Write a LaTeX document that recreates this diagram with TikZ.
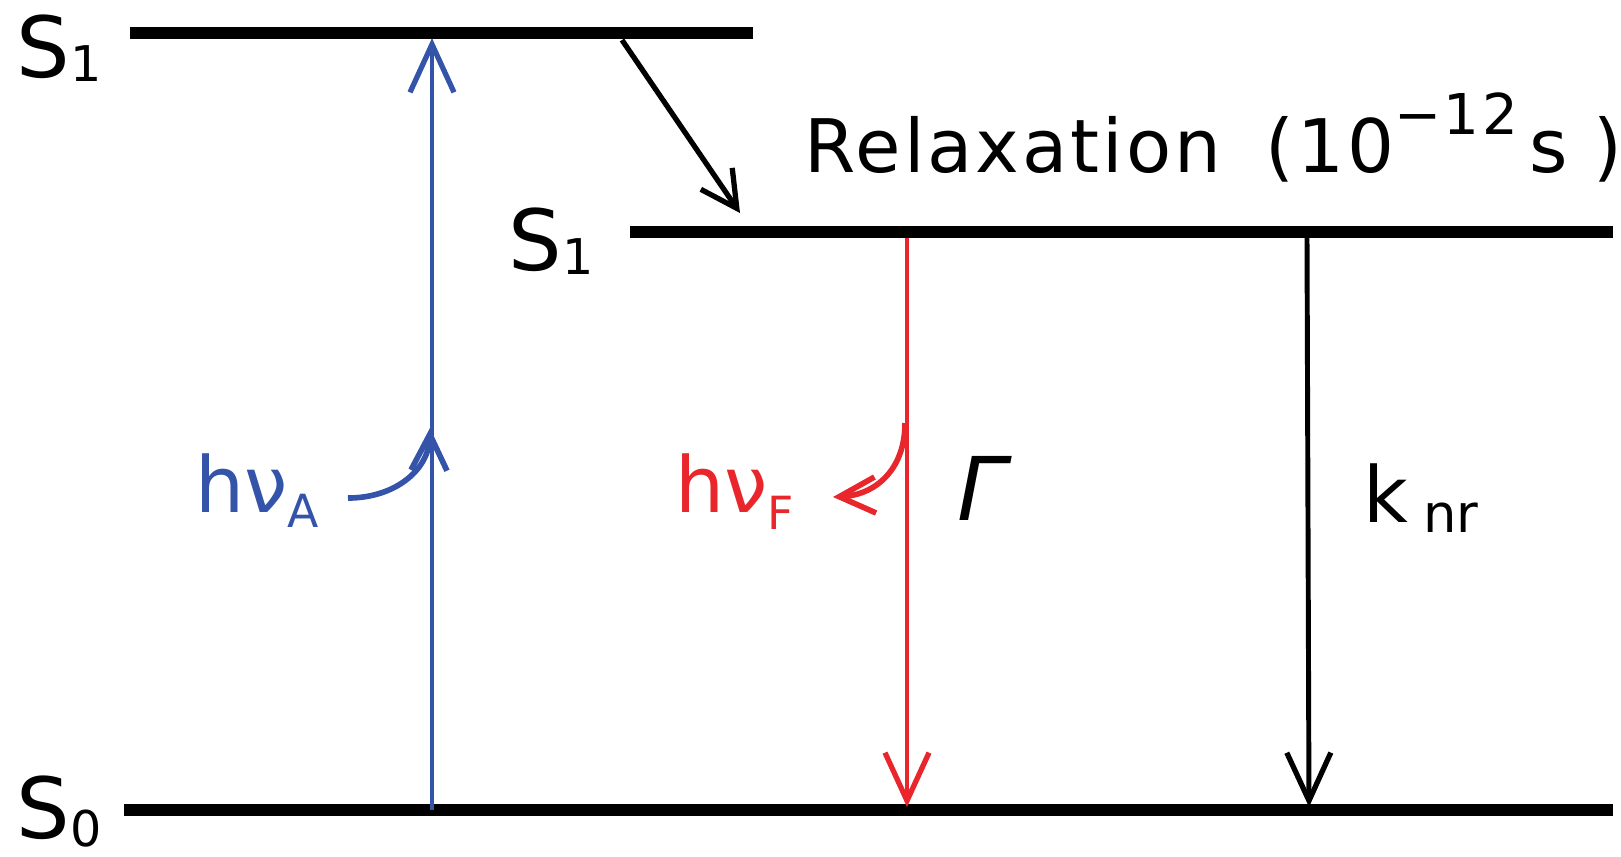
\documentclass[tikz,border=0pt]{standalone}
\usepackage{fontspec}
\setmainfont{DejaVu Sans}
\newfontfamily\widefont[LetterSpace=4]{DejaVu Sans}
\usetikzlibrary{arrows.meta}
\definecolor{absblue}{RGB}{52,84,170}
\definecolor{fluored}{RGB}{232,38,43}
\newcommand{\lowtext}[3]{\raisebox{-#2}{\fontsize{#1}{#1}\selectfont #3}}

\begin{document}
\begin{tikzpicture}[x=0.01cm, y=-0.01cm,
    level/.style={line width=3.6pt},
    trans/.style={line width=1pt, -{Straight Barb[length=4.8mm, width=4.4mm, line width=1.5pt]}},
    curlarrow/.style={line width=1.6pt, -{Straight Barb[length=3.6mm, width=3.6mm, line width=1.6pt]}},
    lbl/.style={anchor=base west, inner sep=0pt}]
        \useasboundingbox (0,0) rectangle (1621,856);
        \clip (0,0) rectangle (1621,856);

        % levels
        \coordinate (s1a-l) at (130,33);  \coordinate (s1a-r) at (753,33);
        \coordinate (s1b-l) at (630,232); \coordinate (s1b-r) at (1613,232);
        \coordinate (s0-l) at (124,810);  \coordinate (s0-r) at (1613,810);
        \draw[level] (s1a-l) -- (s1a-r);
        \draw[level] (s1b-l) -- (s1b-r);
        \draw[level] (s0-l) -- (s0-r);

        \node[lbl, font=\fontsize{24}{24}\selectfont] (lab-s1a) at (16,77) {S\lowtext{14}{1.4pt}{1}};
        \node[lbl, font=\fontsize{24}{24}\selectfont] (lab-s1b) at (508,270) {S\lowtext{14}{1.4pt}{1}};
        \node[lbl, font=\fontsize{24}{24}\selectfont] (lab-s0) at (16,838) {S\lowtext{14}{2.5pt}{0}};

        % absorption
        \coordinate (abs-bot) at (432,810); \coordinate (abs-top) at (432,38);
        \draw[trans, absblue] (abs-bot) -- (abs-top);
        \node[lbl, absblue, font=\fontsize{22}{22}\selectfont] (hva) at (195,512) {hν\lowtext{13}{4.3pt}{A}};
        \coordinate (hva-end) at (348,498); \coordinate (hva-tip) at (430,428);
        \draw[curlarrow, absblue] (hva-end) .. controls (395,498) and (429,470) .. (hva-tip);

        % relaxation
        \coordinate (rel-start) at (622,40); \coordinate (rel-tip) at (740,213);
        \draw[line width=1.5pt, -{Straight Barb[length=3.6mm, width=3.8mm, line width=1.5pt]}] (rel-start) -- (rel-tip);
        \node[lbl, font=\widefont\fontsize{21}{21}\selectfont] (relax) at (804,172)
            {Relaxation\hspace{0.45cm}(10\raisebox{10.8pt}{\fontsize{16}{16}\selectfont −12}\hspace{0.12cm}s\hspace{0.25cm})};

        % fluorescence
        \coordinate (fl-top) at (907,238); \coordinate (fl-bot) at (907,807);
        \draw[trans, fluored] (fl-top) -- (fl-bot);
        \node[lbl, fluored, font=\fontsize{22}{22}\selectfont] (hvf) at (675,512) {hν\lowtext{13}{5pt}{F}};
        \coordinate (hvf-start) at (905,423); \coordinate (hvf-tip) at (833,497);
        \draw[curlarrow, fluored] (hvf-start) .. controls (905,470) and (875,495) .. (hvf-tip);
        \node[lbl, font=\fontsize{25}{25}\selectfont\itshape] (gam) at (957,520) {Γ};

        % nonradiative
        \coordinate (nr-top) at (1307,238); \coordinate (nr-bot) at (1309,807);
        \draw[trans, line width=1.4pt] (nr-top) -- (nr-bot);
        \node[lbl, font=\fontsize{22}{22}\selectfont] (knr) at (1363,522) {k\hspace{0.15cm}\lowtext{15}{3pt}{nr}};
\end{tikzpicture}
\end{document}
